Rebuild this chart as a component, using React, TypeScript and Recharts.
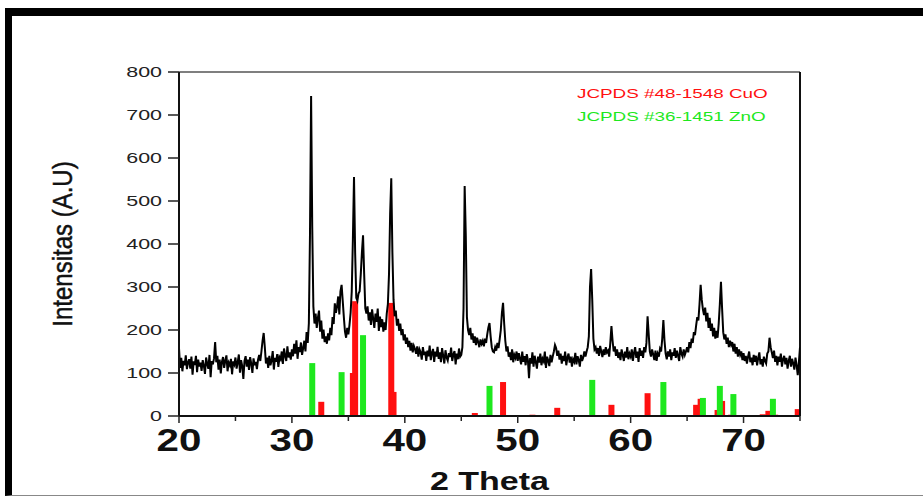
import React from 'react';
import {
  ComposedChart,
  Line,
  Bar,
  XAxis,
  YAxis,
  Legend,
  ReferenceLine,
} from 'recharts';

// measured XRD pattern, 2θ = 20.0 .. 75.0 in steps of 0.1 (one row per degree)
const INTENSITY = [
  158, 112, 135, 104, 128, 118, 141, 109, 125, 132, // 20
  110, 138, 96, 127, 119, 140, 102, 131, 115, 124, // 21
  105, 130, 117, 98, 136, 121, 110, 142, 90, 128, // 22
  120, 134, 172, 125, 140, 108, 131, 99, 126, 137, // 23
  112, 129, 141, 104, 124, 118, 133, 97, 127, 120, // 24
  136, 110, 125, 143, 101, 130, 116, 86, 128, 139, // 25
  115, 131, 107, 137, 122, 100, 134, 118, 126, 109, // 26
  131, 142, 128, 150, 175, 193, 160, 122, 136, 112, // 27
  140, 118, 129, 151, 108, 135, 126, 144, 114, 137, // 28
  132, 150, 121, 157, 140, 128, 162, 136, 148, 131, // 29
  155, 139, 168, 145, 176, 133, 160, 149, 171, 142, // 30
  158, 175, 150, 195, 170, 215, 420, 744, 440, 255, // 31
  215, 238, 205, 228, 245, 196, 222, 180, 201, 172, // 32
  185, 168, 192, 176, 205, 188, 230, 214, 262, 240, // 33
  255, 278, 236, 290, 305, 268, 230, 196, 182, 205, // 34
  190, 212, 240, 290, 410, 556, 380, 275, 268, 285, // 35
  290, 330, 380, 420, 330, 250, 238, 255, 222, 241, // 36
  212, 248, 226, 205, 238, 219, 250, 198, 231, 207, // 37
  225, 196, 218, 200, 238, 260, 330, 470, 553, 380, // 38
  270, 232, 245, 210, 226, 198, 215, 188, 202, 176, // 39
  190, 168, 182, 160, 175, 152, 170, 148, 163, 156, // 40
  145, 162, 138, 155, 148, 131, 160, 142, 150, 128, // 41
  152, 139, 164, 130, 147, 156, 126, 150, 138, 161, // 42
  133, 148, 125, 158, 140, 122, 153, 136, 129, 146, // 43
  137, 159, 128, 143, 151, 120, 145, 132, 157, 138, // 44
  142, 160, 250, 535, 420, 230, 200, 188, 205, 178, // 45
  192, 170, 185, 165, 182, 172, 160, 178, 168, 175, // 46
  162, 180, 170, 190, 206, 216, 185, 160, 150, 148, // 47
  160, 152, 170, 158, 178, 200, 240, 263, 215, 175, // 48
  150, 162, 138, 148, 130, 155, 125, 142, 135, 150, // 49
  128, 146, 133, 120, 150, 126, 139, 118, 144, 130, // 50
  88, 135, 122, 148, 115, 140, 126, 110, 138, 124, // 51
  145, 118, 133, 127, 150, 112, 138, 129, 116, 142, // 52
  125, 138, 150, 165, 158, 140, 152, 131, 145, 122, // 53
  140, 128, 150, 118, 136, 145, 124, 138, 115, 132, // 54
  126, 147, 120, 139, 130, 115, 142, 128, 136, 150, // 55
  138, 150, 160, 185, 300, 342, 270, 180, 155, 160, // 56
  145, 158, 140, 163, 150, 137, 155, 142, 160, 148, // 57
  152, 138, 170, 209, 175, 150, 162, 140, 155, 135, // 58
  148, 130, 155, 142, 128, 150, 136, 160, 132, 145, // 59
  138, 155, 128, 147, 160, 135, 150, 126, 158, 140, // 60
  152, 135, 160, 148, 170, 232, 190, 150, 138, 155, // 61
  143, 130, 152, 128, 145, 138, 156, 150, 180, 223, // 62
  175, 145, 132, 150, 138, 155, 130, 148, 140, 158, // 63
  135, 152, 140, 128, 160, 145, 138, 155, 142, 150, // 64
  160, 148, 172, 158, 180, 170, 195, 188, 210, 230, // 65
  222, 260, 305, 270, 248, 235, 252, 220, 240, 205, // 66
  228, 198, 215, 185, 205, 180, 198, 182, 215, 260, // 67
  312, 250, 195, 178, 190, 168, 182, 160, 175, 165, // 68
  172, 150, 168, 145, 160, 138, 155, 142, 150, 130, // 69
  146, 128, 140, 122, 138, 150, 125, 136, 118, 142, // 70
  126, 140, 118, 135, 148, 120, 132, 115, 138, 128, // 71
  122, 145, 150, 182, 160, 148, 135, 152, 126, 140, // 72
  118, 138, 126, 145, 115, 132, 140, 120, 135, 110, // 73
  128, 140, 115, 133, 122, 108, 136, 118, 95, 125, // 74
  160, // 75
];

// JCPDS #48-1548 CuO reference lines
const CUO_THETA = [32.6, 35.4, 35.6, 38.8, 39.0, 46.2, 48.7, 51.3, 53.5, 56.7, 58.3, 61.5, 65.8, 66.2, 67.7, 68.1, 68.9, 71.7, 72.2, 72.8, 74.8];
const CUO_INTENSITY = [33, 100, 267, 263, 56, 7, 79, 3, 19, 2, 26, 53, 26, 40, 14, 35, 3, 4, 12, 3, 16];

// JCPDS #36-1451 ZnO reference lines
const ZNO_THETA = [31.8, 34.4, 36.3, 47.5, 56.6, 62.9, 66.4, 67.9, 69.1, 72.6];
const ZNO_INTENSITY = [123, 102, 188, 70, 84, 79, 42, 70, 51, 40];

const LEGEND_ORDER = ['cuo', 'zno'];
const X_TICKS = [20, 25, 30, 35, 40, 45, 50, 55, 60, 65, 70, 75];
const Y_TICKS = [0, 50, 100, 150, 200, 250, 300, 350, 400, 450, 500, 550, 600, 650, 700, 750, 800];

const FONT = '"Liberation Sans", Arial, sans-serif';
const STICK_WIDTH = 6;

const lineRows = INTENSITY.map((v, i) => ({ theta: (200 + i) / 10, intensity: v }));
const cuoRows = CUO_THETA.map((t, i) => ({ theta: t, cuo: CUO_INTENSITY[i] }));
const znoRows = ZNO_THETA.map((t, i) => ({ theta: t, zno: ZNO_INTENSITY[i] }));
const chartData: any[] = [...lineRows, ...cuoRows, ...znoRows].sort((a, b) => a.theta - b.theta);

// reference stick: fixed width, centred on the bar's own x position
function Stick({ x, y, width, height, fill }: any) {
  if (!height || height <= 0) return null;
  return <rect x={x + width / 2 - STICK_WIDTH / 2} y={y} width={STICK_WIDTH} height={height} fill={fill} />;
}

function YTick({ x, y, payload }: any) {
  const major = payload.value % 100 === 0;
  return (
    <g>
      <line x1={x - (major ? 11 : 6)} x2={x} y1={y} y2={y} stroke="#222" strokeWidth={1.5} />
      {major && (
        <text
          transform={`translate(${x - 17},${y + 5}) scale(1.43,1)`}
          textAnchor="end"
          fontSize={15}
          fontFamily={FONT}
          fill="#222"
        >
          {payload.value}
        </text>
      )}
    </g>
  );
}

function XTick({ x, y, payload }: any) {
  const major = payload.value % 10 === 0;
  return (
    <g>
      <line x1={x} x2={x} y1={y} y2={y + (major ? 7 : 5)} stroke="#222" strokeWidth={1.5} />
      {major && (
        <text
          transform={`translate(${x},${y + 35}) scale(1.3,1)`}
          textAnchor="middle"
          fontSize={31}
          fontWeight="bold"
          fontFamily={FONT}
          fill="#111"
        >
          {payload.value}
        </text>
      )}
    </g>
  );
}

function XLabel({ viewBox }: any) {
  const cx = viewBox.x + viewBox.width / 2;
  return (
    <text
      transform={`translate(${cx},${viewBox.y + 74}) scale(1.36,1)`}
      textAnchor="middle"
      fontSize={25}
      fontWeight="bold"
      fontFamily={FONT}
      fill="#111"
    >
      2 Theta
    </text>
  );
}

function YLabel({ viewBox }: any) {
  const cy = viewBox.y + viewBox.height / 2;
  return (
    <text
      transform={`translate(72,${cy}) rotate(-90) scale(1,1.15)`}
      textAnchor="middle"
      fontSize={24}
      fontFamily={FONT}
      fill="#111"
      stroke="#111"
      strokeWidth={0.4}
    >
      Intensitas (A.U)
    </text>
  );
}

function LegendText({ payload }: any) {
  const items = (payload || [])
    .filter((p: any) => LEGEND_ORDER.includes(p.dataKey))
    .sort((a: any, b: any) => LEGEND_ORDER.indexOf(a.dataKey) - LEGEND_ORDER.indexOf(b.dataKey));
  return (
    <div style={{ fontFamily: FONT, fontSize: 13, lineHeight: '23px' }}>
      {items.map((p: any) => (
        <div
          key={p.value}
          style={{ color: p.color, transform: 'scaleX(1.45)', transformOrigin: 'left', whiteSpace: 'nowrap' }}
        >
          {p.value}
        </div>
      ))}
    </div>
  );
}

export default function App() {
  return (
    <div style={{ position: 'absolute', left: 0, top: 0, width: 923, height: 497, background: '#fff', overflow: 'hidden' }}>
      <div
        style={{
          position: 'absolute',
          left: 5,
          top: 8,
          width: 911,
          height: 479,
          borderTop: '8px solid #000',
          borderLeft: '7px solid #000',
          borderBottom: '1px solid #888',
        }}
      />
      <div style={{ position: 'absolute', left: 0, top: 0 }}>
        <ComposedChart
          width={923}
          height={497}
          data={chartData}
          margin={{ top: 72, right: 123, bottom: 0, left: 0 }}
        >
          <XAxis
            dataKey="theta"
            type="number"
            domain={[20, 75]}
            ticks={X_TICKS}
            allowDataOverflow
            height={81}
            tickSize={0}
            tickMargin={0}
            tick={<XTick />}
            axisLine={{ stroke: '#111', strokeWidth: 2 }}
            label={<XLabel />}
          />
          <YAxis
            type="number"
            domain={[0, 800]}
            ticks={Y_TICKS}
            allowDataOverflow
            width={179}
            tickSize={0}
            tickMargin={0}
            tick={<YTick />}
            axisLine={{ stroke: '#111', strokeWidth: 2 }}
            label={<YLabel />}
          />
          <ReferenceLine y={800} stroke="#555" strokeWidth={1.5} />
          <ReferenceLine x={75} stroke="#111" strokeWidth={2} />
          <Bar dataKey="cuo" name="JCPDS #48-1548 CuO" stackId="ref" fill="#ff1010" shape={<Stick />} isAnimationActive={false} />
          <Bar dataKey="zno" name="JCPDS #36-1451 ZnO" stackId="ref" fill="#1ee81e" shape={<Stick />} isAnimationActive={false} />
          <Line
            dataKey="intensity"
            type="linear"
            stroke="#000"
            strokeWidth={2}
            dot={false}
            connectNulls
            legendType="none"
            isAnimationActive={false}
          />
          <Legend
            content={<LegendText />}
            wrapperStyle={{ position: 'absolute', left: 577, top: 82, width: 'auto', height: 0, bottom: 'auto', overflow: 'visible' }}
          />
        </ComposedChart>
      </div>
    </div>
  );
}
